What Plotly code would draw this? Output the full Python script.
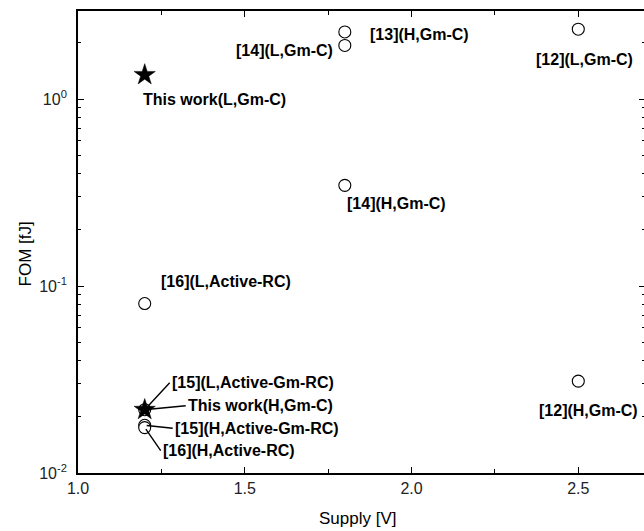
import math
import plotly.graph_objects as go

# ---- data ----
circle_supply = [2.5, 2.5, 1.8, 1.8, 1.8, 1.2, 1.2, 1.2, 1.2]
circle_fom = [2.37, 0.031, 2.29, 1.94, 0.346, 0.0807, 0.0218, 0.0180, 0.0175]
circle_labels = ["[12](L,Gm-C)", "[12](H,Gm-C)", "[13](H,Gm-C)", "[14](L,Gm-C)",
                 "[14](H,Gm-C)", "[16](L,Active-RC)", "[15](L,Active-Gm-RC)",
                 "[15](H,Active-Gm-RC)", "[16](H,Active-RC)"]

star_supply = [1.2, 1.2]
star_fom = [1.35, 0.0218]
star_labels = ["This work(L,Gm-C)", "This work(H,Gm-C)"]

x_tickvals = [1.0, 1.5, 2.0, 2.5]
x_ticktext = ["1.0", "1.5", "2.0", "2.5"]
x_minor = [1.25, 1.75, 2.25]
y_tickvals = [0.01, 0.1, 1]
y_ticktext = ["10<sup>-2</sup>", "10<sup>-1</sup>", "10<sup>0</sup>"]
y_minor = [0.02, 0.03, 0.04, 0.05, 0.06, 0.07, 0.08, 0.09,
           0.2, 0.3, 0.4, 0.5, 0.6, 0.7, 0.8, 0.9, 2, 3]

# ---- label placement (pixel offsets from the point; +dy = down) ----
label_style = {
    "[12](L,Gm-C)": (6, 30, "center", False),
    "[12](H,Gm-C)": (10, 29, "center", False),
    "[13](H,Gm-C)": (23, 3, "left", False),
    "[14](L,Gm-C)": (-10, 5, "right", False),
    "[14](H,Gm-C)": (0, 18, "left", False),
    "[16](L,Active-RC)": (14, -22, "left", False),
    "[15](L,Active-Gm-RC)": (25, -27, "left", True),
    "[15](H,Active-Gm-RC)": (28, 3, "left", True),
    "[16](H,Active-RC)": (16, 23, "left", True),
    "This work(L,Gm-C)": (-4, 25, "left", False),
    "This work(H,Gm-C)": (41, -4, "left", True),
}

FONT = "Liberation Sans, Arial, sans-serif"

fig = go.Figure()
fig.add_trace(go.Scatter(
    x=circle_supply, y=circle_fom, mode="markers",
    marker=dict(symbol="circle", size=12, color="white",
                line=dict(color="black", width=1.1)),
    hoverinfo="skip", showlegend=False))
fig.add_trace(go.Scatter(
    x=star_supply, y=star_fom, mode="markers",
    marker=dict(symbol="star", size=16, color="black",
                line=dict(color="black", width=0.5)),
    hoverinfo="skip", showlegend=False))

annotations = []
for xs, ys, labs in [(circle_supply, circle_fom, circle_labels),
                     (star_supply, star_fom, star_labels)]:
    for x, y, lab in zip(xs, ys, labs):
        dx, dy, anchor, leader = label_style[lab]
        ann = dict(x=x, y=math.log10(y), xref="x", yref="y",
                   text="<b>" + lab + "</b>",
                   font=dict(family=FONT, size=16, color="black"),
                   xanchor=anchor, yanchor="middle")
        if leader:
            ann.update(showarrow=True, ax=dx, ay=dy,
                       axref="pixel", ayref="pixel", arrowhead=0,
                       arrowwidth=1.4, arrowcolor="black", standoff=2)
        else:
            ann.update(showarrow=False, xshift=dx, yshift=-dy)
        annotations.append(ann)

# axis titles as text
annotations.append(dict(text="Supply [V]", x=0.493, y=-0.098, xref="paper", yref="paper",
                        showarrow=False, xanchor="center", yanchor="middle",
                        font=dict(family=FONT, size=17, color="black")))
annotations.append(dict(text="FOM [fJ]", x=-0.092, y=0.475, xref="paper", yref="paper",
                        showarrow=False, textangle=-90, xanchor="center", yanchor="middle",
                        font=dict(family=FONT, size=17, color="black")))

fig.update_layout(
    width=647, height=531,
    margin=dict(l=78, r=0, t=11, b=58),
    paper_bgcolor="white", plot_bgcolor="white",
    font=dict(family=FONT, size=15, color="black"),
    annotations=annotations,
)
fig.update_xaxes(
    range=[1.0, 2.7], tickvals=x_tickvals, ticktext=x_ticktext,
    ticks="inside", ticklen=6, tickwidth=1.3, tickcolor="black",
    showline=True, linecolor="black", linewidth=1.8, mirror="ticks",
    showgrid=False, zeroline=False,
    tickfont=dict(family=FONT, size=16, color="#222"),
    minor=dict(tickvals=x_minor, ticks="inside", ticklen=4, tickwidth=1.2,
               tickcolor="black", showgrid=False),
)
fig.update_yaxes(
    type="log", range=[-2, 0.472], tickvals=y_tickvals, ticktext=y_ticktext,
    ticks="inside", ticklen=6, tickwidth=1.3, tickcolor="black",
    showline=True, linecolor="black", linewidth=1.8, mirror="ticks",
    showgrid=False, zeroline=False, ticklabelstandoff=6,
    tickfont=dict(family=FONT, size=16, color="#222"),
    minor=dict(tickvals=y_minor, ticks="inside", ticklen=3, tickwidth=1.1,
               tickcolor="black", showgrid=False),
)

fig.write_html("out.html", config={"displayModeBar": False},
               post_script="document.body.style.margin='0';document.body.style.overflow='hidden';")
